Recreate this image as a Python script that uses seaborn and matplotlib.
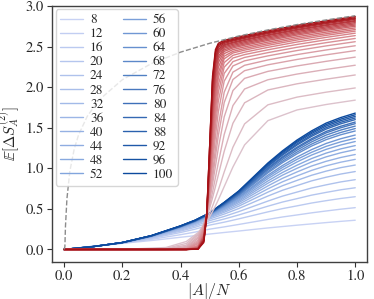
import numpy as np
import pandas as pd
import matplotlib
matplotlib.use("Agg")
import matplotlib.pyplot as plt
import seaborn as sns

sns.set_style("ticks")
plt.rcParams["font.family"] = ["STIXGeneral", "DejaVu Serif"]
plt.rcParams["mathtext.fontset"] = "cm"

# system sizes shown in the legend
sizes = [8, 12, 16, 20, 24, 28, 32, 36, 40, 44, 48, 52,
         56, 60, 64, 68, 72, 76, 80, 84, 88, 92, 96, 100]

# blue family, sampled at blue_x
blue_x = [0.0, 0.1, 0.2, 0.3, 0.4, 0.45, 0.5, 0.55, 0.6, 0.65, 0.7,
          0.75, 0.8, 0.85, 0.9, 0.95, 1.0]
blue_y = [
    [0, 0.040, 0.075, 0.110, 0.150, 0.170, 0.190, 0.209, 0.227, 0.246, 0.265, 0.282, 0.299, 0.315, 0.331, 0.346, 0.360],
    [0, 0.039, 0.077, 0.124, 0.182, 0.214, 0.250, 0.278, 0.308, 0.339, 0.370, 0.400, 0.425, 0.451, 0.474, 0.496, 0.515],
    [0, 0.038, 0.079, 0.135, 0.209, 0.250, 0.300, 0.336, 0.377, 0.420, 0.463, 0.503, 0.537, 0.572, 0.601, 0.628, 0.650],
    [0, 0.037, 0.080, 0.142, 0.226, 0.273, 0.330, 0.375, 0.425, 0.479, 0.533, 0.584, 0.626, 0.669, 0.703, 0.735, 0.760],
    [0, 0.037, 0.081, 0.148, 0.238, 0.290, 0.355, 0.407, 0.466, 0.531, 0.596, 0.657, 0.707, 0.757, 0.796, 0.832, 0.860],
    [0, 0.036, 0.082, 0.153, 0.249, 0.305, 0.375, 0.436, 0.504, 0.581, 0.658, 0.729, 0.787, 0.845, 0.890, 0.929, 0.960],
    [0, 0.036, 0.083, 0.156, 0.258, 0.316, 0.390, 0.458, 0.533, 0.620, 0.706, 0.785, 0.851, 0.914, 0.965, 1.008, 1.040],
    [0, 0.036, 0.083, 0.159, 0.263, 0.323, 0.400, 0.474, 0.556, 0.652, 0.747, 0.833, 0.906, 0.974, 1.030, 1.075, 1.110],
    [0, 0.036, 0.084, 0.161, 0.269, 0.331, 0.410, 0.489, 0.577, 0.680, 0.783, 0.876, 0.955, 1.028, 1.086, 1.133, 1.170],
    [0, 0.036, 0.084, 0.162, 0.272, 0.335, 0.415, 0.500, 0.594, 0.705, 0.816, 0.915, 1.000, 1.078, 1.141, 1.191, 1.230],
    [0, 0.036, 0.084, 0.163, 0.273, 0.338, 0.420, 0.510, 0.609, 0.727, 0.844, 0.948, 1.038, 1.120, 1.187, 1.239, 1.280],
    [0, 0.036, 0.084, 0.164, 0.276, 0.341, 0.425, 0.520, 0.624, 0.748, 0.872, 0.982, 1.078, 1.163, 1.233, 1.287, 1.330],
    [0, 0.035, 0.084, 0.165, 0.279, 0.345, 0.430, 0.529, 0.637, 0.766, 0.895, 1.010, 1.110, 1.197, 1.270, 1.326, 1.370],
    [0, 0.035, 0.084, 0.165, 0.279, 0.345, 0.430, 0.533, 0.646, 0.781, 0.915, 1.034, 1.139, 1.230, 1.306, 1.364, 1.410],
    [0, 0.035, 0.084, 0.166, 0.282, 0.349, 0.435, 0.543, 0.661, 0.802, 0.943, 1.069, 1.178, 1.274, 1.353, 1.413, 1.460],
    [0, 0.035, 0.084, 0.166, 0.282, 0.349, 0.435, 0.546, 0.667, 0.813, 0.958, 1.087, 1.200, 1.298, 1.380, 1.441, 1.490],
    [0, 0.035, 0.085, 0.168, 0.284, 0.352, 0.440, 0.554, 0.678, 0.828, 0.978, 1.109, 1.224, 1.325, 1.409, 1.471, 1.520],
    [0, 0.035, 0.085, 0.168, 0.284, 0.352, 0.440, 0.557, 0.684, 0.839, 0.993, 1.128, 1.246, 1.349, 1.436, 1.499, 1.550],
    [0, 0.035, 0.085, 0.168, 0.284, 0.352, 0.440, 0.560, 0.689, 0.846, 1.003, 1.140, 1.260, 1.365, 1.454, 1.518, 1.570],
    [0, 0.035, 0.085, 0.169, 0.287, 0.356, 0.445, 0.567, 0.699, 0.860, 1.021, 1.162, 1.286, 1.393, 1.483, 1.548, 1.600],
    [0, 0.035, 0.085, 0.169, 0.287, 0.356, 0.445, 0.570, 0.704, 0.868, 1.031, 1.174, 1.300, 1.409, 1.501, 1.567, 1.620],
    [0, 0.035, 0.085, 0.170, 0.290, 0.360, 0.450, 0.576, 0.712, 0.879, 1.045, 1.190, 1.319, 1.428, 1.521, 1.587, 1.640],
    [0, 0.035, 0.085, 0.170, 0.290, 0.360, 0.450, 0.578, 0.716, 0.886, 1.055, 1.202, 1.333, 1.444, 1.539, 1.606, 1.660],
    [0, 0.035, 0.085, 0.170, 0.290, 0.360, 0.450, 0.581, 0.721, 0.893, 1.065, 1.215, 1.348, 1.461, 1.557, 1.625, 1.680],
]

# red family, sampled at red_x (dense around the jump)
red_x = [0.0, 0.2, 0.35, 0.42, 0.46, 0.48, 0.49, 0.5, 0.51, 0.52, 0.53,
         0.55, 0.58, 0.62, 0.7, 0.8, 0.9, 1.0]
red_y = [
    [0, 0.001, 0.024, 0.098, 0.207, 0.293, 0.344, 0.404, 0.468, 0.538, 0.613, 0.774, 1.016, 1.288, 1.587, 1.719, 1.786, 1.840],
    [0, 0, 0.013, 0.074, 0.192, 0.297, 0.366, 0.444, 0.533, 0.631, 0.735, 0.954, 1.260, 1.547, 1.782, 1.877, 1.938, 1.990],
    [0, 0, 0.006, 0.053, 0.179, 0.311, 0.401, 0.509, 0.635, 0.774, 0.920, 1.209, 1.555, 1.807, 1.965, 2.041, 2.098, 2.150],
    [0, 0, 0.003, 0.037, 0.155, 0.304, 0.411, 0.546, 0.706, 0.885, 1.070, 1.416, 1.773, 1.977, 2.091, 2.161, 2.218, 2.270],
    [0, 0, 0.001, 0.025, 0.137, 0.299, 0.432, 0.599, 0.802, 1.025, 1.250, 1.633, 1.958, 2.108, 2.194, 2.261, 2.318, 2.370],
    [0, 0, 0, 0.016, 0.114, 0.284, 0.433, 0.631, 0.876, 1.144, 1.405, 1.810, 2.094, 2.203, 2.275, 2.341, 2.398, 2.450],
    [0, 0, 0, 0.010, 0.096, 0.271, 0.432, 0.660, 0.940, 1.246, 1.531, 1.938, 2.185, 2.269, 2.335, 2.401, 2.458, 2.510],
    [0, 0, 0, 0.006, 0.081, 0.262, 0.446, 0.713, 1.046, 1.393, 1.698, 2.074, 2.261, 2.324, 2.385, 2.451, 2.508, 2.560],
    [0, 0, 0, 0.004, 0.069, 0.251, 0.452, 0.755, 1.135, 1.518, 1.829, 2.169, 2.314, 2.366, 2.425, 2.491, 2.548, 2.600],
    [0, 0, 0, 0.002, 0.050, 0.221, 0.430, 0.767, 1.196, 1.621, 1.938, 2.246, 2.359, 2.401, 2.460, 2.526, 2.583, 2.635],
    [0, 0, 0, 0.001, 0.041, 0.205, 0.421, 0.788, 1.266, 1.714, 2.029, 2.303, 2.392, 2.431, 2.490, 2.556, 2.613, 2.665],
    [0, 0, 0, 0.001, 0.032, 0.184, 0.410, 0.811, 1.338, 1.813, 2.117, 2.349, 2.421, 2.456, 2.515, 2.581, 2.638, 2.690],
    [0, 0, 0, 0.001, 0.028, 0.181, 0.422, 0.856, 1.414, 1.890, 2.178, 2.381, 2.441, 2.476, 2.535, 2.601, 2.658, 2.710],
    [0, 0, 0, 0, 0.024, 0.171, 0.424, 0.896, 1.500, 1.981, 2.245, 2.413, 2.463, 2.496, 2.555, 2.621, 2.678, 2.730],
    [0, 0, 0, 0, 0.019, 0.165, 0.430, 0.950, 1.590, 2.068, 2.302, 2.440, 2.483, 2.516, 2.575, 2.641, 2.698, 2.750],
    [0, 0, 0, 0, 0.017, 0.161, 0.444, 1.009, 1.680, 2.139, 2.348, 2.460, 2.498, 2.531, 2.590, 2.656, 2.713, 2.765],
    [0, 0, 0, 0, 0.012, 0.138, 0.413, 0.998, 1.717, 2.184, 2.380, 2.480, 2.513, 2.546, 2.605, 2.671, 2.728, 2.780],
    [0, 0, 0, 0, 0.011, 0.136, 0.433, 1.070, 1.817, 2.252, 2.417, 2.497, 2.528, 2.561, 2.620, 2.686, 2.743, 2.795],
    [0, 0, 0, 0, 0.008, 0.120, 0.406, 1.070, 1.853, 2.288, 2.444, 2.512, 2.543, 2.576, 2.635, 2.701, 2.758, 2.810],
    [0, 0, 0, 0, 0.007, 0.121, 0.432, 1.153, 1.945, 2.340, 2.466, 2.524, 2.553, 2.586, 2.645, 2.711, 2.768, 2.820],
    [0, 0, 0, 0, 0.006, 0.109, 0.410, 1.155, 1.976, 2.369, 2.489, 2.539, 2.568, 2.601, 2.660, 2.726, 2.783, 2.835],
    [0, 0, 0, 0, 0.005, 0.109, 0.442, 1.253, 2.070, 2.414, 2.509, 2.552, 2.578, 2.611, 2.670, 2.736, 2.793, 2.845],
    [0, 0, 0, 0, 0.004, 0.100, 0.426, 1.258, 2.096, 2.434, 2.524, 2.562, 2.588, 2.621, 2.680, 2.746, 2.803, 2.855],
    [0, 0, 0, 0, 0.003, 0.085, 0.401, 1.265, 2.136, 2.463, 2.541, 2.577, 2.603, 2.636, 2.695, 2.761, 2.818, 2.870],
]

# dashed envelope
env_x = [0.0, 0.003, 0.005, 0.01, 0.02, 0.035, 0.05, 0.08, 0.12, 0.2, 0.3,
         0.4, 0.5, 0.6, 0.7, 0.8, 0.9, 1.0]
env_y = [0.0, 0.033, 0.284, 0.624, 0.963, 1.237, 1.412, 1.642, 1.841, 2.091,
         2.290, 2.431, 2.540, 2.630, 2.705, 2.771, 2.828, 2.880]


def long_df(xs, table):
    rows = []
    for n, ys in zip(sizes, table):
        for x, y in zip(xs, ys):
            rows.append((str(n), x, y))
    return pd.DataFrame(rows, columns=["N", "x", "y"])


blue_df = long_df(blue_x, blue_y)
red_df = long_df(red_x, red_y)
labels = [str(n) for n in sizes]

blues = sns.blend_palette(["#c8d2f4", "#7fa3dc", "#0c4a9e"], len(sizes))
reds = sns.blend_palette(["#dcc2cc", "#d77a80", "#a50f15"], len(sizes))

fig, ax = plt.subplots(figsize=(3.74, 2.99), dpi=100)
sns.lineplot(data=blue_df, x="x", y="y", hue="N", hue_order=labels,
             palette=blues, estimator=None, sort=False, lw=1.0, ax=ax)
sns.lineplot(data=red_df, x="x", y="y", hue="N", hue_order=labels,
             palette=reds, estimator=None, sort=False, lw=1.0, legend=False, ax=ax)
ax.plot(env_x, env_y, ls="--", color="0.55", lw=1.0)

ax.set_xlim(-0.04, 1.04)
ax.set_ylim(-0.15, 3.0)
ax.set_xticks([0.0, 0.2, 0.4, 0.6, 0.8, 1.0])
ax.set_yticks([0.0, 0.5, 1.0, 1.5, 2.0, 2.5, 3.0])
ax.tick_params(labelsize=10.5, length=3.5, width=0.8, color="0.2", pad=2.5)
for s in ax.spines.values():
    s.set_color("0.25")
    s.set_linewidth(1.0)
ax.set_xlabel(r"$|A|/N$", fontsize=11.5, labelpad=-2)
ax.set_ylabel(r"$\mathbb{E}[\Delta S_A^{(2)}]$", fontsize=10.5)
ax.yaxis.set_label_coords(-0.1, 0.5)

ax.legend(ncol=2, loc="upper left", fontsize=9.5, frameon=True,
          handlelength=1.7, handletextpad=0.55, columnspacing=1.5,
          labelspacing=0.14, borderpad=0.35, borderaxespad=0.25,
          edgecolor="0.8")

fig.subplots_adjust(left=0.14, right=0.981, top=0.98, bottom=0.125)
fig.savefig("out.png", dpi=100)
